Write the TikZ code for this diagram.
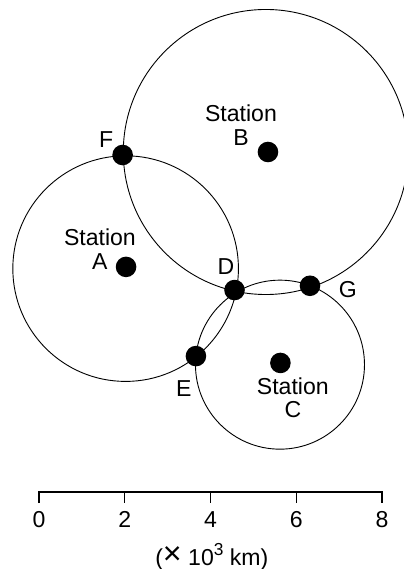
\documentclass[tikz,border=0pt]{standalone}
\usepackage{fontspec}
\setmainfont{Liberation Sans}
\usetikzlibrary{positioning}

\begin{document}
\begin{tikzpicture}[
  dot/.style={circle, fill=black, minimum size=0.48cm, inner sep=0pt},
  lbl/.style={inner sep=0pt, font=\fontsize{15.3}{15.6}\selectfont},
  stn/.style={lbl, align=center},
  ring/.style={line width=0.6pt}]
  \useasboundingbox (-0.91,-1.796) rectangle (8.49,11.475);

  % Range circles
  \draw[ring] (2.02,5.21) circle (2.631);
  \draw[ring] (5.29,7.93) circle (3.324);
  \draw[ring] (5.62,2.97) circle (1.971);

  % Stations
  \node[dot] (sA) at (2.03,5.25) {};
  \node[dot] (sB) at (5.34,7.93) {};
  \node[dot] (sC) at (5.63,3.01) {};
  \node[stn] (tA) at (1.42,5.66) {Station\\A};
  \node[stn] (tB) at (4.71,8.56) {Station\\B};
  \node[stn] (tC) at (5.92,2.20) {Station\\C};

  % Crossing points
  \node[dot] (F) at (1.95,7.86) {};
  \node[dot] (D) at (4.56,4.71) {};
  \node[dot] (E) at (3.66,3.17) {};
  \node[dot] (G) at (6.32,4.81) {};
  \node[lbl, above left=0pt and 1pt of F] (lF) {F};
  \node[lbl, above=3pt of D, xshift=-0.2cm] (lD) {D};
  \node[lbl, below=0.32cm of E, xshift=-0.28cm] (lE) {E};
  \node[lbl, right=0.42cm of G, yshift=-0.1cm] (lG) {G};

  % Scale bar
  \draw[line width=0.8pt] (0,-0.26) -- (0,0) -- (8,0) -- (8,-0.26);
  \foreach \x in {2,4,6} \draw[line width=0.8pt] (\x,0) -- (\x,-0.26);
  \foreach \x in {0,2,4,6,8} \node[lbl, below=0.19cm] (n\x) at (\x,-0.26) {\x};
  \node[lbl] (unit) at (4.03,-1.51) {(\raisebox{0.05em}{\scalebox{1.4}{×}} 10\raisebox{0.42em}{\fontsize{11.5}{12}\selectfont 3} km)};
\end{tikzpicture}
\end{document}
